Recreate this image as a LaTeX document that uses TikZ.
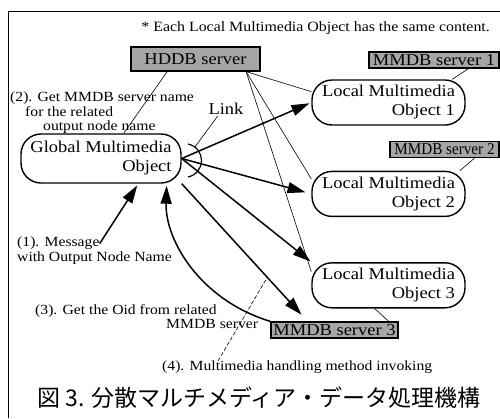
\documentclass[tikz,border=0pt]{standalone}
\usepackage{fontspec}
\setmainfont{Liberation Serif}[FakeStretch=1.12]
\newfontfamily\jpfont{Noto Sans CJK JP}
\usepackage{graphicx}
\usepackage{tikz}
\usetikzlibrary{positioning,arrows.meta,calc}

\newcommand{\objfont}{\fontsize{16.5}{19}\selectfont}
\newcommand{\lblfont}{\fontsize{14}{14.5}\selectfont}

\tikzstyle{obj} = [rectangle, draw, line width=1.4pt, rounded corners=20pt, align=right, font=\objfont, minimum width=153pt, minimum height=45pt, inner sep=2pt]
\tikzstyle{srv} = [rectangle, draw, line width=1.2pt, fill=black!35, font=\objfont, inner sep=1pt, minimum height=16pt]
\tikzstyle{lbl} = [font=\lblfont, inner sep=0pt]
\tikzstyle{bigarrow} = [line width=1.5pt, -{Triangle[length=18pt,width=11pt]}]
\tikzstyle{hair} = [line width=0.6pt]

\begin{document}
\begin{tikzpicture}[x=1pt,y=-1pt]
		\useasboundingbox (0,0) rectangle (500,418);
		\draw[line width=1pt] (8,418) -- (8,11) -- (500,11);
		
		\node (note) [lbl, font=\fontsize{14.2}{16}\selectfont, anchor=east] at (490,28) {* Each Local Multimedia Object has the same content.};
		
		% servers
		\node (HDDB) [srv, minimum width=129pt, minimum height=24pt] at (195.5,59) {HDDB server};
		\node (MMDB1) [srv, minimum width=130pt] at (434,60) {MMDB server 1};
		\node (MMDB2) [srv, minimum width=109pt] at (444.5,149.5) {\scalebox{0.82}[1]{MMDB server 2}};
		\node (MMDB3) [srv, minimum width=127pt] at (334.5,330) {MMDB server 3};
		
		% objects
		\node (Global) [obj, minimum width=160pt, minimum height=49pt] at (101,158.5) {Global Multimedia\\Object};
		\node (Local1) [obj] at (388.5,102.5) {Local Multimedia\\Object 1};
		\node (Local2) [obj, below=45pt of Local1] {Local Multimedia\\Object 2};
		\node (Local3) [obj, below=45pt of Local2] {Local Multimedia\\Object 3};
		
		% labels
		\node (msg2) [lbl, align=left, anchor=north west] at (10,92) {(2). Get MMDB server name\\\hspace*{15pt}for the related\\\hspace*{33pt}output node name};
		\node (msg1) [lbl, anchor=north west] at (17,237) {(1). Message};
		\node (msg1b) [lbl, below right=1pt and 0pt of msg1.south west] {with Output Node Name};
		\node (msg3) [lbl, align=left, anchor=north west] at (35,304) {(3). Get the Oid from related\\\hspace*{131pt}MMDB server};
		\node (msg4) [lbl, anchor=north west] at (162,361) {(4). Multimedia handling method invoking};
		\node (Link) [font=\objfont, inner sep=1pt] at (226,109) {Link};
		
		% link
		\coordinate (arcA) at (188,144);
		\coordinate (arcB) at (188,177);
		\draw[line width=1.2pt] (arcA) .. controls (206,148) and (206,173) .. (arcB) coordinate[pos=0.15] (linkpt);
		\draw[hair] (Link.220) -- (linkpt);
		
		\draw[hair] (HDDB.346) -- (Local1.172);
		\draw[hair] (HDDB.346) -- (Local2.169);
		\draw[hair] (HDDB.346) -- (Local3.170);
		\draw[hair] (HDDB.204) -- (Global.48);
		
		\draw[hair] (MMDB1.346) -- (Local1.20);
		\draw[hair] (MMDB2.344) -- (Local2.18);
		\draw[hair] (Local3.239) -- (MMDB3.9);
		
		\draw[bigarrow, shorten >=2pt] (Global.east) -- (Local1.west);
		\draw[bigarrow, shorten >=6pt] (Global.east) -- (Local2.west);
		\draw[bigarrow, shorten >=1pt] (Global.east) -- (Local3.north west);
		\draw[bigarrow, shorten >=9pt] (Global.south east) -- ($(MMDB3.north west)!0.29!(MMDB3.north east)$) coordinate[pos=0.68] (invk);
		
		\draw[bigarrow, shorten >=2pt] (msg1.east) -- (Global.-34);
		\draw[bigarrow, shorten >=2pt] (MMDB3.north west) .. controls (200,300) and (165,240) .. (Global.-21);
		\draw[hair, dash pattern=on 4pt off 2pt] ([xshift=56pt]msg4.north west) -- (invk);
		
		\node (caption) [font=\jpfont\fontsize{23}{26}\selectfont, inner sep=0pt] at (259,398) {図 3. 分散マルチメディア・データ処理機構};
		
	\end{tikzpicture}
\end{document}
